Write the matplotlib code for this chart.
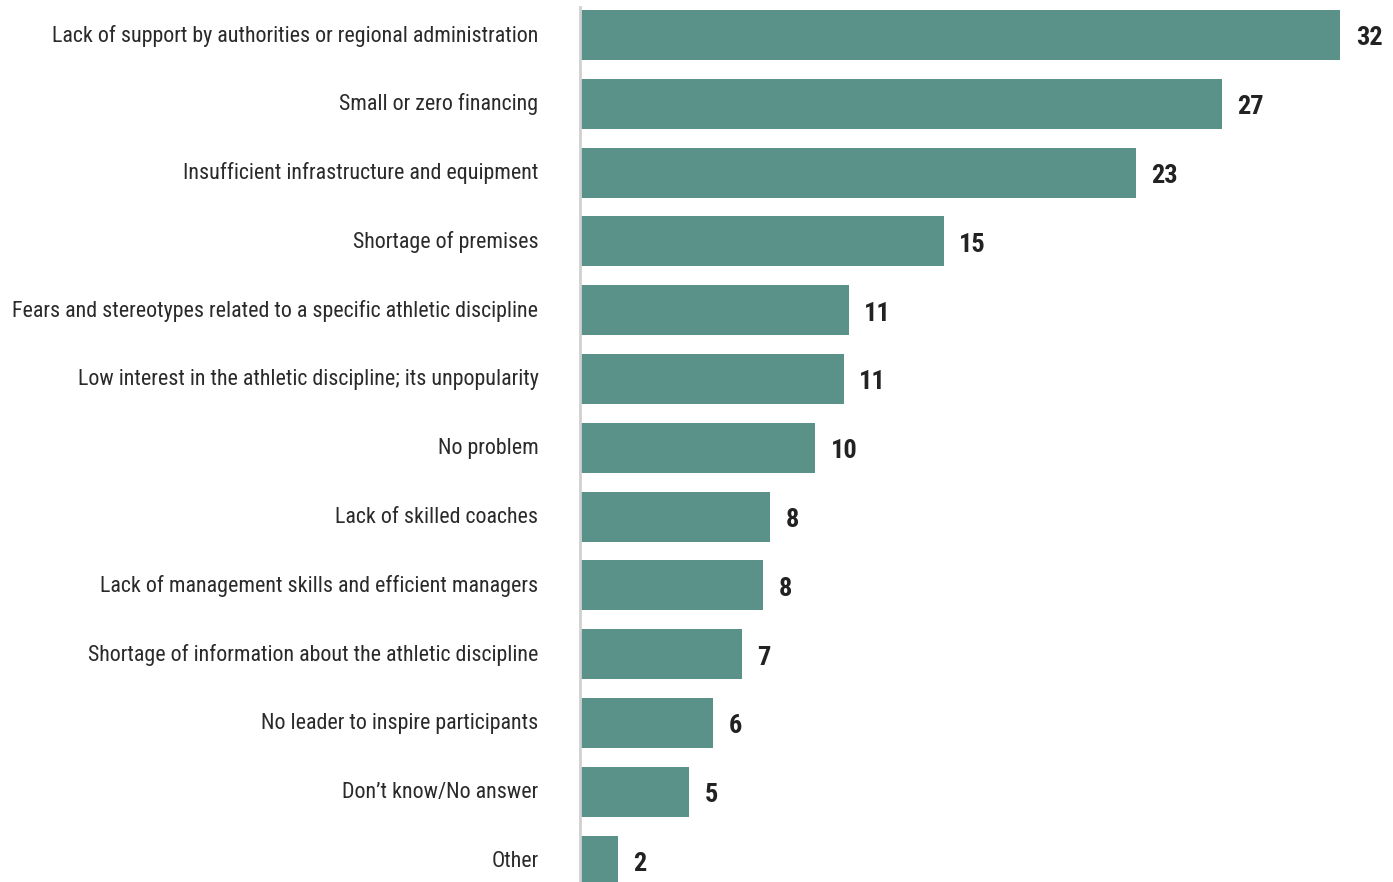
"""
Horizontal bar chart of problems faced by athletic disciplines.
"""

import matplotlib.pyplot as plt
import matplotlib.transforms as mtransforms

# Data
categories = [
    "Lack of support by authorities or regional administration",
    "Small or zero financing",
    "Insufficient infrastructure and equipment",
    "Shortage of premises",
    "Fears and stereotypes related to a specific athletic discipline",
    "Low interest in the athletic discipline; its unpopularity",
    "No problem",
    "Lack of skilled coaches",
    "Lack of management skills and efficient managers",
    "Shortage of information about the athletic discipline",
    "No leader to inspire participants",
    "Don\u2019t know/No answer",
    "Other",
]
values = [32.0, 27.0, 23.4, 15.3, 11.3, 11.1, 9.9, 8.0, 7.7, 6.8, 5.6, 4.6, 1.6]

plt.rcParams['font.family'] = ['Roboto Condensed', 'Liberation Sans Narrow', 'Roboto', 'DejaVu Sans']

fig = plt.figure(figsize=(13.93, 8.82), dpi=100)
ax = fig.add_axes([0.4164, 0.0, 0.58, 0.992])

pos = list(range(len(categories)))
ax.barh(pos, values, height=0.727, color='#5a928a', zorder=2)

for p, v in zip(pos, values):
    ax.text(v + 0.65, p + 0.05, f"{round(v):d}", va='center', ha='left',
            fontsize=19, fontweight='bold', color='#222222')

ax.set_yticks(pos)
ax.set_yticklabels(categories, fontsize=15.8, color='#2a2a2a')
ax.tick_params(axis='y', length=0, pad=30)
ax.set_xticks([])

# nudge category labels up a little
shift = mtransforms.ScaledTranslation(0, 2 / 100, fig.dpi_scale_trans)
for lbl in ax.get_yticklabels():
    lbl.set_transform(lbl.get_transform() + shift)

ax.set_xlim(0, 34)
ax.set_ylim(12.311, -0.407)

for s in ['top', 'right', 'bottom']:
    ax.spines[s].set_visible(False)
ax.spines['left'].set_color('#d0d0d0')
ax.spines['left'].set_linewidth(2)

fig.savefig('out.png', dpi=100)
